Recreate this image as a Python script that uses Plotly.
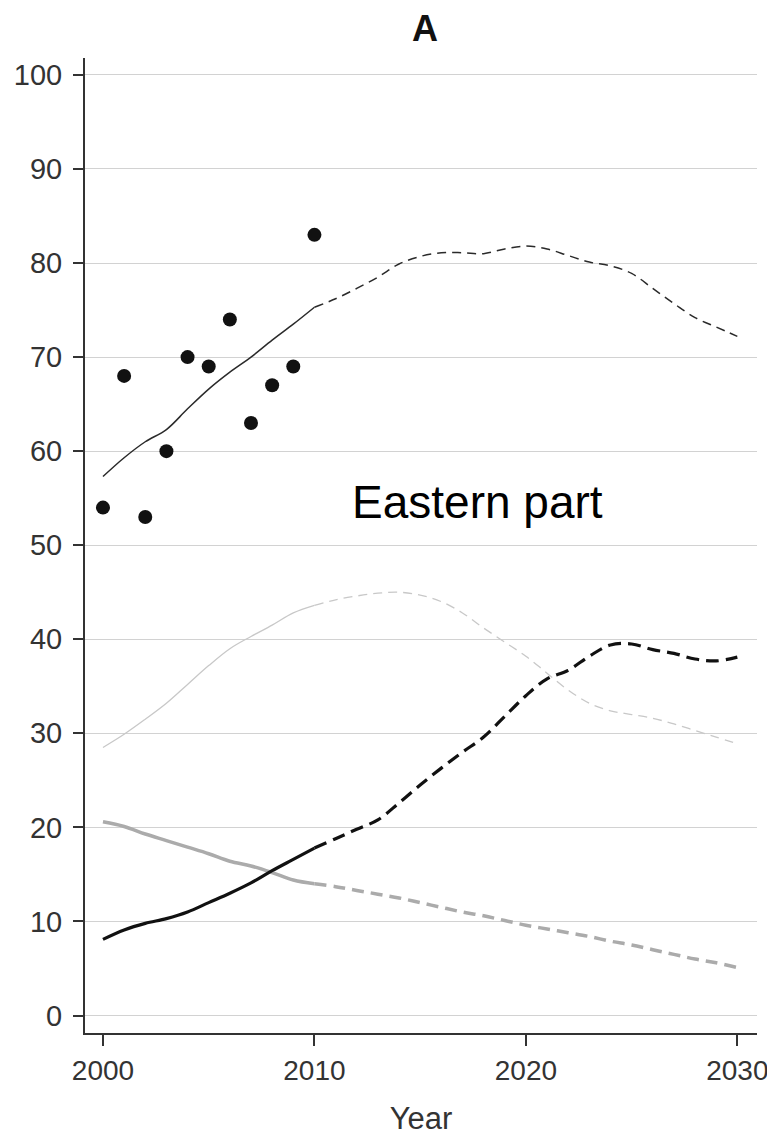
import plotly.graph_objects as go

# ---- data ----
years_hist = list(range(2000, 2011))
years_proj = list(range(2010, 2031))

observed = [54, 68, 53, 60, 70, 69, 74, 63, 67, 69, 83]

top_hist = [57.3, 59.3, 61.0, 62.3, 64.5, 66.6, 68.4, 70.0, 71.8, 73.5, 75.3]
top_proj = [75.3, 76.2, 77.3, 78.5, 79.9, 80.7, 81.1, 81.1, 81.0, 81.5, 81.8,
            81.5, 80.8, 80.1, 79.7, 78.9, 77.3, 75.7, 74.2, 73.2, 72.2]

light_hist = [28.5, 29.9, 31.5, 33.2, 35.2, 37.2, 39.0, 40.3, 41.5, 42.8, 43.6]
light_proj = [43.6, 44.2, 44.6, 44.9, 45.0, 44.7, 44.0, 42.8, 41.2, 39.7, 38.2,
              36.4, 34.6, 33.2, 32.4, 32.0, 31.6, 31.0, 30.3, 29.6, 28.9]

gray_hist = [20.6, 20.1, 19.3, 18.6, 17.9, 17.2, 16.4, 15.9, 15.2, 14.4, 14.0]
gray_proj = [14.0, 13.7, 13.3, 12.9, 12.5, 12.0, 11.5, 11.0, 10.6, 10.1, 9.6,
             9.2, 8.8, 8.4, 7.9, 7.5, 7.0, 6.5, 6.0, 5.6, 5.1]

black_hist = [8.1, 9.1, 9.8, 10.3, 11.0, 12.0, 13.0, 14.1, 15.4, 16.6, 17.8]
black_proj = [17.8, 18.8, 19.8, 20.8, 22.6, 24.5, 26.3, 28.0, 29.6, 31.8, 34.0,
              35.8, 36.7, 38.2, 39.4, 39.5, 38.9, 38.5, 37.9, 37.7, 38.1]

x_ticks = [2000, 2010, 2020, 2030]
y_ticks = list(range(0, 101, 10))

FONT = "Liberation Sans, Arial, sans-serif"

fig = go.Figure()

def add_pair(hist, proj, color, width, dash):
    fig.add_trace(go.Scatter(x=years_hist, y=hist, mode="lines",
                             line=dict(color=color, width=width, shape="spline"),
                             showlegend=False, hoverinfo="skip"))
    fig.add_trace(go.Scatter(x=years_proj, y=proj, mode="lines",
                             line=dict(color=color, width=width, shape="spline", dash=dash),
                             showlegend=False, hoverinfo="skip"))

add_pair(light_hist, light_proj, "#c8c8c8", 1.3, "9px,6px")
add_pair(gray_hist, gray_proj, "#ababab", 3.5, "12px,7px")
add_pair(top_hist, top_proj, "#2a2a2a", 1.5, "9px,6px")
add_pair(black_hist, black_proj, "#111111", 3.2, "13px,7px")

fig.add_trace(go.Scatter(x=years_hist, y=observed, mode="markers",
                         marker=dict(color="#111111", size=14),
                         showlegend=False, hoverinfo="skip"))

# page body has an 8px margin; figure is offset by it
W, H = 767, 1128
L, R, T, B = 77, 18, 50, 103
pw = W - L - R
ph = H - T - B

fig.update_layout(
    width=W, height=H,
    margin=dict(l=L, r=R, t=T, b=B),
    paper_bgcolor="white", plot_bgcolor="white",
    font=dict(family=FONT, color="#333333"),
    xaxis=dict(range=[1999.15, 2030.93], tickvals=x_ticks, automargin=False,
               showgrid=False, zeroline=False,
               showline=True, linecolor="#333333", linewidth=2,
               ticks="outside", ticklen=11, tickwidth=2, tickcolor="#333333",
               tickfont=dict(size=28, family=FONT, color="#333333"),
               title=dict(text="Year", font=dict(size=31, family=FONT, color="#333333"),
                          standoff=23)),
    yaxis=dict(range=[-1.86, 101.8], tickvals=y_ticks, automargin=False,
               showgrid=True, gridcolor="#d2d2d2", gridwidth=1.2,
               zeroline=False,
               showline=True, linecolor="#333333", linewidth=2,
               ticks="outside", ticklen=10, tickwidth=2, tickcolor="#333333",
               ticklabelstandoff=5,
               tickfont=dict(size=29, family=FONT, color="#333333")),
    annotations=[
        dict(text="<b>A</b>", x=(425 - 8 - L) / pw, y=(H - B - 21) / ph,
             xref="paper", yref="paper", yanchor="middle",
             showarrow=False, font=dict(size=36, family=FONT, color="#111111")),
        dict(text="Eastern part", x=2017.7, y=54.6, xref="x", yref="y",
             showarrow=False, font=dict(size=46, family=FONT, color="#000000")),
    ],
)

fig.write_html("out.html")
